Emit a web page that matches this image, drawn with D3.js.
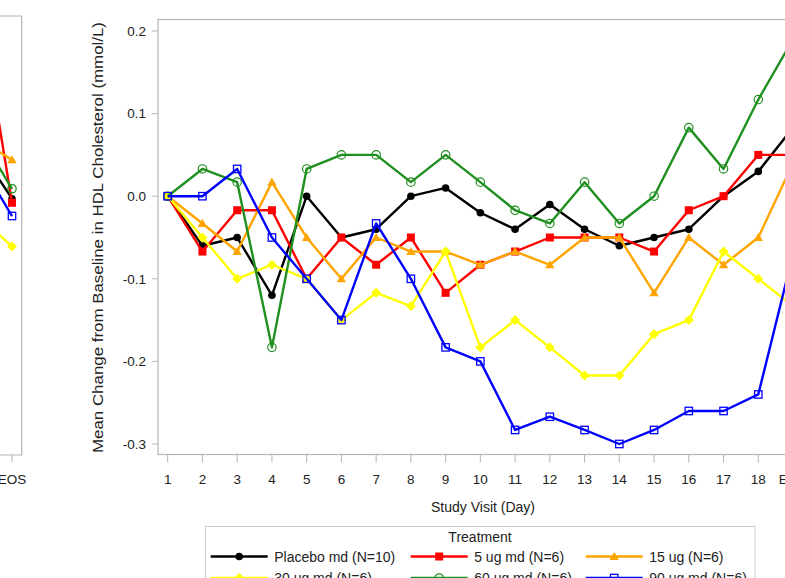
<!DOCTYPE html>
<html><head><meta charset="utf-8">
<script src="https://cdn.jsdelivr.net/npm/d3@7/dist/d3.min.js"></script>
<style>html,body{margin:0;padding:0;background:#fff;overflow:hidden}svg{display:block}text{font-family:"Liberation Sans",Arial,sans-serif;fill:#222}</style>
</head><body>
<script>
// ---- data ----
const visits = ["1","2","3","4","5","6","7","8","9","10","11","12","13","14","15","16","17","18","EOS"];
const placebo = [0,-0.06,-0.05,-0.12,0,-0.05,-0.04,0,0.01,-0.02,-0.04,-0.01,-0.04,-0.06,-0.05,-0.04,0,0.03,0.083];
const ug5     = [0,-0.067,-0.017,-0.017,-0.1,-0.05,-0.083,-0.05,-0.117,-0.083,-0.067,-0.05,-0.05,-0.05,-0.067,-0.017,0,0.05,0.05];
const ug15    = [0,-0.033,-0.067,0.017,-0.05,-0.1,-0.05,-0.067,-0.067,-0.083,-0.067,-0.083,-0.05,-0.05,-0.117,-0.05,-0.083,-0.05,0.04];
const ug30    = [0,-0.05,-0.1,-0.083,-0.1,-0.15,-0.117,-0.133,-0.067,-0.183,-0.15,-0.183,-0.217,-0.217,-0.167,-0.15,-0.067,-0.1,-0.133];
const ug60    = [0,0.033,0.017,-0.183,0.033,0.05,0.05,0.017,0.05,0.017,-0.017,-0.033,0.017,-0.033,0,0.083,0.033,0.117,0.19];
const ug90    = [0,0,0.033,-0.05,-0.1,-0.15,-0.033,-0.1,-0.183,-0.2,-0.283,-0.267,-0.283,-0.3,-0.283,-0.26,-0.26,-0.24,-0.07];
// neighbouring (cropped) panel on the left: last two visits only
const leftVisits = ["18","EOS"];
const leftPlacebo = [0.06,-0.003];
const leftUg5     = [0.25,-0.008];
const leftUg15    = [0.07,0.044];
const leftUg30    = [-0.022,-0.061];
const leftUg60    = [0.079,0.009];
const leftUg90    = [0.047,-0.024];
const yTicks = [-0.3,-0.2,-0.1,0.0,0.1,0.2];
const seriesNames = ["Placebo md (N=10)","5 ug md (N=6)","15 ug (N=6)","30 ug md (N=6)","60 ug md (N=6)","90 ug md (N=6)"];
const seriesColors = ["#000000","#ff0000","#ffa500","#ffff00","#1f8f1f","#0000ff"];
const seriesMarkers = ["circle","square","triangle","diamond","ocircle","osquare"];
const mainData = [placebo,ug5,ug15,ug30,ug60,ug90];
const leftData = [leftPlacebo,leftUg5,leftUg15,leftUg30,leftUg60,leftUg90];

// ---- layout ----
const W=785,H=578;
const svg=d3.select("body").append("svg").attr("width",W).attr("height",H);
const frame="#b4b4b4";
const P={l:158,t:19.5,b:454.5,r:805};
const y=d3.scaleLinear().domain([-0.3,0.2]).range([444,31]);
const x=d3.scalePoint().domain(visits).range([167.7,167.7+18*34.74]);
const xl=d3.scalePoint().domain(leftVisits).range([12-34.74,12]);

const defs=svg.append("defs");
defs.append("clipPath").attr("id","cm").append("rect").attr("x",P.l).attr("y",P.t).attr("width",P.r-P.l).attr("height",P.b-P.t);
defs.append("clipPath").attr("id","cl").append("rect").attr("x",-50).attr("y",16).attr("width",71.7).attr("height",455-16);

function marker(g,type,color,cx,cy){
  if(type==="circle") g.append("circle").attr("cx",cx).attr("cy",cy).attr("r",3.8).attr("fill",color);
  else if(type==="square") g.append("rect").attr("x",cx-4).attr("y",cy-4).attr("width",8).attr("height",8).attr("fill",color);
  else if(type==="triangle") g.append("path").attr("transform",`translate(${cx},${cy+0.8})`).attr("d",d3.symbol(d3.symbolTriangle,38)()).attr("fill",color);
  else if(type==="diamond") g.append("path").attr("transform",`translate(${cx},${cy}) rotate(45)`).attr("d",d3.symbol(d3.symbolSquare,50)()).attr("fill",color);
  else if(type==="ocircle") g.append("circle").attr("cx",cx).attr("cy",cy).attr("r",4.2).attr("fill","none").attr("stroke",color).attr("stroke-width",1.2);
  else if(type==="osquare") g.append("rect").attr("x",cx-3.7).attr("y",cy-3.7).attr("width",7.4).attr("height",7.4).attr("fill","none").attr("stroke",color).attr("stroke-width",1.3);
}

// ---- left cropped panel ----
svg.append("path").attr("d",`M-5,16H21.7V455H-5`).attr("fill","none").attr("stroke",frame).attr("stroke-width",1.2);
svg.append("line").attr("x1",xl("EOS")).attr("x2",xl("EOS")).attr("y1",455).attr("y2",462).attr("stroke",frame);
svg.append("text").attr("x",xl("EOS")).attr("y",484).attr("text-anchor","middle").style("font-size","13.5px").text("EOS");
const gl=svg.append("g").attr("clip-path","url(#cl)");
leftData.forEach((arr,i)=>{
  const g=gl.append("g");
  g.append("path").datum(arr).attr("fill","none").attr("stroke",seriesColors[i]).attr("stroke-width",2.4)
   .attr("d",d3.line().x((d,j)=>xl(leftVisits[j])).y(d=>y(d)));
  arr.forEach((d,j)=>marker(g,seriesMarkers[i],seriesColors[i],xl(leftVisits[j]),y(d)));
});

// ---- main panel ----
svg.append("rect").attr("x",P.l).attr("y",P.t).attr("width",P.r-P.l).attr("height",P.b-P.t).attr("fill","none").attr("stroke",frame).attr("stroke-width",1.2);
// y axis
yTicks.forEach(v=>{
  svg.append("line").attr("x1",P.l-6).attr("x2",P.l).attr("y1",y(v)).attr("y2",y(v)).attr("stroke",frame);
  svg.append("text").attr("x",P.l-12).attr("y",y(v)+4.8).attr("text-anchor","end").style("font-size","13.5px").text(v.toFixed(1).replace("-0.0","0.0"));
});
// x axis
visits.forEach(v=>{
  svg.append("line").attr("x1",x(v)).attr("x2",x(v)).attr("y1",P.b).attr("y2",P.b+8).attr("stroke",frame);
  svg.append("text").attr("x",x(v)).attr("y",483.5).attr("text-anchor","middle").style("font-size","13.5px").text(v);
});
svg.append("text").attr("x",483).attr("y",512).attr("text-anchor","middle").style("font-size","14px").text("Study Visit (Day)");
svg.append("text").attr("transform","translate(103,237.5) rotate(-90)").attr("text-anchor","middle").style("font-size","15px")
  .attr("textLength",431).attr("lengthAdjust","spacingAndGlyphs").text("Mean Change from Baseline in HDL Cholesterol (mmol/L)");

const gm=svg.append("g").attr("clip-path","url(#cm)");
mainData.forEach((arr,i)=>{
  const g=gm.append("g");
  g.append("path").datum(arr).attr("fill","none").attr("stroke",seriesColors[i]).attr("stroke-width",2.4).attr("stroke-linejoin","round")
   .attr("d",d3.line().x((d,j)=>x(visits[j])).y(d=>y(d)));
  arr.forEach((d,j)=>marker(g,seriesMarkers[i],seriesColors[i],x(visits[j]),y(d)));
});

// ---- legend ----
const L={x:205.5,y:526.5,w:549.5};
svg.append("rect").attr("x",L.x).attr("y",L.y).attr("width",L.w).attr("height",80).attr("fill","none").attr("stroke","#cccccc");
svg.append("text").attr("x",480).attr("y",542).attr("text-anchor","middle").style("font-size","14px").text("Treatment");
const colX=[210.7,410.7,585.7];
seriesNames.forEach((n,i)=>{
  const cx=colX[i%3], cy=556.5+Math.floor(i/3)*21.5;
  const g=svg.append("g");
  g.append("line").attr("x1",cx).attr("x2",cx+57).attr("y1",cy).attr("y2",cy).attr("stroke",seriesColors[i]).attr("stroke-width",2.4);
  marker(g,seriesMarkers[i],seriesColors[i],cx+28.5,cy);
  g.append("text").attr("x",cx+63.5).attr("y",cy+5).style("font-size","14px").text(n);
});
</script>
</body></html>
